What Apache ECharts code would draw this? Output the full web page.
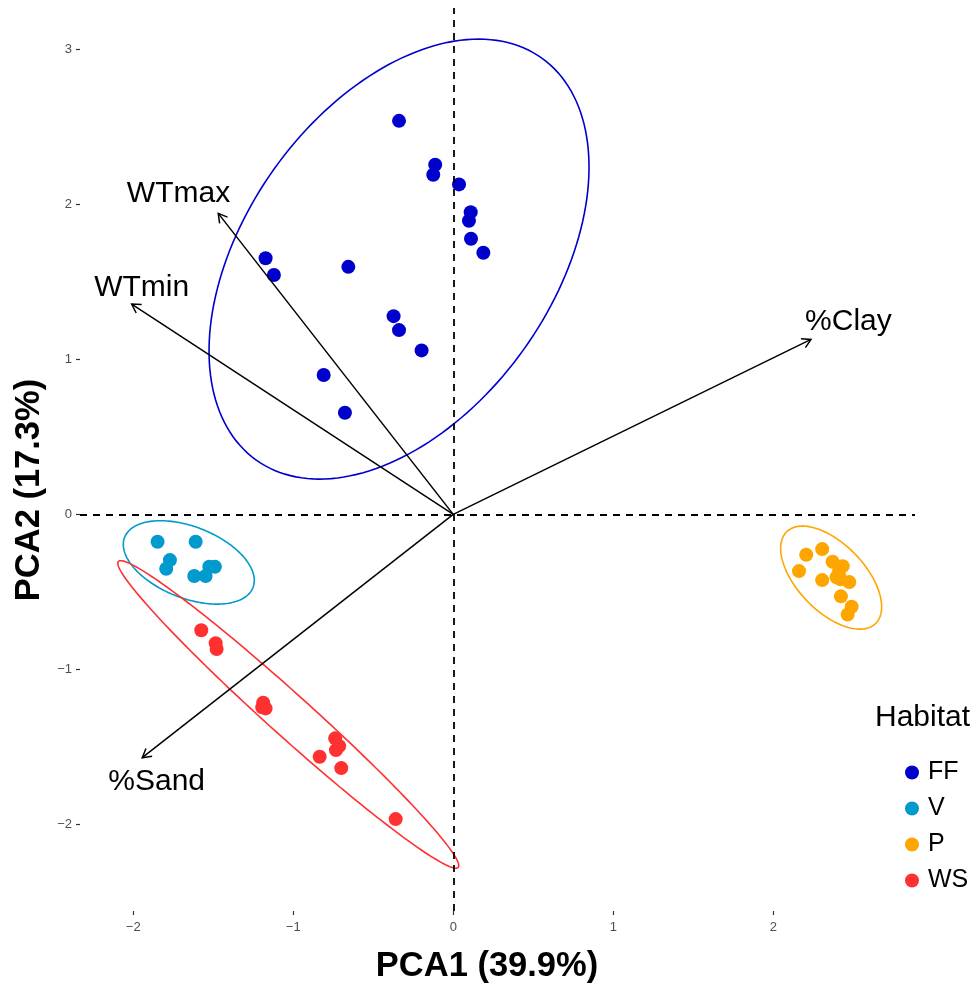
<!DOCTYPE html>
<html>
<head>
<meta charset="utf-8">
<script src="https://cdn.jsdelivr.net/npm/echarts@6/dist/echarts.min.js"></script>
<style>html,body{margin:0;padding:0;background:#fff}#c{width:980px;height:988px}</style>
</head>
<body>
<div id="c"></div>
<script>
const habitats = ['FF', 'V', 'P', 'WS'];
const habitatColors = ['#0000CD', '#009ACD', '#FFA500', '#FF3030'];
const ffData = [[-0.339,2.539],[-0.113,2.256],[-0.125,2.191],[0.036,2.129],[0.109,1.950],[0.098,1.894],[0.111,1.778],[0.188,1.688],[-1.173,1.652],[-1.121,1.544],[-0.656,1.597],[-0.373,1.279],[-0.339,1.189],[-0.198,1.058],[-0.810,0.899],[-0.677,0.656]];
const vData = [[-1.848,-0.177],[-1.610,-0.177],[-1.771,-0.295],[-1.794,-0.351],[-1.619,-0.398],[-1.548,-0.398],[-1.525,-0.338],[-1.490,-0.338]];
const pData = [[2.206,-0.261],[2.306,-0.224],[2.161,-0.366],[2.371,-0.306],[2.434,-0.334],[2.411,-0.370],[2.396,-0.406],[2.421,-0.419],[2.475,-0.437],[2.306,-0.424],[2.423,-0.529],[2.490,-0.596],[2.465,-0.646]];
const wsData = [[-1.575,-0.748],[-1.485,-0.832],[-1.479,-0.869],[-1.188,-1.215],[-1.173,-1.252],[-1.194,-1.245],[-0.738,-1.445],[-0.713,-1.495],[-0.733,-1.521],[-0.835,-1.564],[-0.700,-1.637],[-0.360,-1.966]];
// ellipse: [centerX, centerY, semiAxisU_x, semiAxisU_y, semiAxisV_x, semiAxisV_y]
const ffEllipse = [-0.339, 1.647, 0.8668, 1.3145, -0.8117, 0.5353];
const vEllipse = [-1.653, -0.310, 0.3998, -0.1656, 0.0879, 0.2121];
const pEllipse = [2.362, -0.408, 0.2737, -0.2998, 0.1572, 0.1435];
const wsEllipse = [-1.031, -1.291, 1.062, -0.987, -0.0878, -0.1007];
const arrowNames = ['WTmax', 'WTmin', '%Clay', '%Sand'];
const arrowTips = [[-1.469,1.942],[-2.010,1.357],[2.236,1.129],[-1.944,-1.570]];
const arrowLabelPos = [[-1.7175,2.066],[-1.9475,1.46],[2.47,1.241],[-1.854,-1.727]];
const xTicks = [-2, -1, 0, 1, 2];
const yTicks = [-2, -1, 0, 1, 2, 3];

const FONT = "'Liberation Sans', Arial, Helvetica, sans-serif";
const chart = echarts.init(document.getElementById('c'), null, {renderer: 'canvas'});
const fmt = v => String(v).replace('-', '\u2212');

function ellipseSeries(name, params, color) {
  return {
    type: 'custom', name: name, coordinateSystem: 'cartesian2d', silent: true, z: 3,
    dimensions: ['cx','cy','ux','uy','vx','vy'],
    encode: {x: 0, y: 1},
    data: [params],
    renderItem: function (p, api) {
      const cx = api.value(0), cy = api.value(1), ux = api.value(2), uy = api.value(3), vx = api.value(4), vy = api.value(5);
      const pts = [];
      const n = 180;
      for (let i = 0; i < n; i++) {
        const t = 2 * Math.PI * i / n;
        pts.push(api.coord([cx + ux * Math.cos(t) + vx * Math.sin(t), cy + uy * Math.cos(t) + vy * Math.sin(t)]));
      }
      return {type: 'polygon', shape: {points: pts}, style: {fill: null, stroke: color, lineWidth: 1.6}};
    }
  };
}

function scatterSeries(name, data, color) {
  return {type: 'scatter', name: name, data: data, symbol: 'circle', symbolSize: 14, z: 4,
    itemStyle: {color: color, opacity: 1}, emphasis: {disabled: true}};
}

const arrowData = arrowTips.map((t, i) => [t[0], t[1], arrowLabelPos[i][0], arrowLabelPos[i][1], arrowNames[i]]);

const option = {
  animation: false,
  backgroundColor: '#ffffff',
  grid: {left: 80, right: 65, top: 8, bottom: 77, containLabel: false},
  xAxis: {
    type: 'value', min: -2.333, max: 2.886,
    axisLine: {show: false, onZero: false}, splitLine: {show: false},
    axisTick: {show: true, customValues: xTicks, length: 4, lineStyle: {color: '#333333', width: 1.2}},
    axisLabel: {customValues: xTicks, formatter: fmt, color: '#4D4D4D', fontSize: 13, fontFamily: FONT, margin: 10}
  },
  yAxis: {
    type: 'value', min: -2.559, max: 3.267,
    axisLine: {show: false, onZero: false}, splitLine: {show: false},
    axisTick: {show: true, customValues: yTicks, length: 4, lineStyle: {color: '#333333', width: 1.2}},
    axisLabel: {customValues: yTicks, formatter: fmt, color: '#4D4D4D', fontSize: 13, fontFamily: FONT, margin: 8}
  },
  legend: {
    data: habitats.map(h => ({name: h, icon: 'circle'})),
    orient: 'vertical', left: 900, top: 755,
    itemWidth: 14, itemHeight: 14, itemGap: 11,
    textStyle: {fontSize: 25, fontFamily: FONT, color: '#000', lineHeight: 25, padding: [0, 0, 0, 4]},
    selectedMode: false
  },
  graphic: [
    {type: 'text', left: 875, top: 703, style: {text: 'Habitat', font: '30px ' + FONT, fill: '#000'}},
    {type: 'text', x: 487, y: 966, style: {text: 'PCA1 (39.9%)', font: 'bold 34.5px ' + FONT, fill: '#000', textAlign: 'center', textVerticalAlign: 'middle'}},
    {type: 'text', x: 29, y: 490, rotation: Math.PI / 2, style: {text: 'PCA2 (17.3%)', font: 'bold 34.5px ' + FONT, fill: '#000', textAlign: 'center', textVerticalAlign: 'middle'}}
  ],
  series: [
    {
      type: 'line', name: 'refLines', data: [], silent: true, z: 1,
      markLine: {
        silent: true, symbol: ['none', 'none'], animation: false, label: {show: false},
        lineStyle: {color: '#000', type: [7, 6], width: 1.8},
        data: [{xAxis: 0}, {yAxis: 0}]
      }
    },
    ellipseSeries('FF ellipse', ffEllipse, habitatColors[0]),
    ellipseSeries('V ellipse', vEllipse, habitatColors[1]),
    ellipseSeries('P ellipse', pEllipse, habitatColors[2]),
    ellipseSeries('WS ellipse', wsEllipse, habitatColors[3]),
    scatterSeries('FF', ffData, habitatColors[0]),
    scatterSeries('V', vData, habitatColors[1]),
    scatterSeries('P', pData, habitatColors[2]),
    scatterSeries('WS', wsData, habitatColors[3]),
    {
      type: 'custom', name: 'loadings', coordinateSystem: 'cartesian2d', silent: true, z: 5,
      dimensions: ['x', 'y', 'lx', 'ly', 'label'],
      encode: {x: 0, y: 1},
      data: arrowData,
      renderItem: function (p, api) {
        const o = api.coord([0, 0]);
        const t = api.coord([api.value(0), api.value(1)]);
        const lp = api.coord([api.value(2), api.value(3)]);
        const ang = Math.atan2(t[1] - o[1], t[0] - o[0]);
        const L = 10, a = Math.PI / 6;
        const h1 = [t[0] - L * Math.cos(ang - a), t[1] - L * Math.sin(ang - a)];
        const h2 = [t[0] - L * Math.cos(ang + a), t[1] - L * Math.sin(ang + a)];
        return {
          type: 'group',
          children: [
            {type: 'polyline', shape: {points: [o, t]}, style: {stroke: '#000', lineWidth: 1.5, fill: null}},
            {type: 'polyline', shape: {points: [h1, t, h2]}, style: {stroke: '#000', lineWidth: 1.5, fill: null}},
            {type: 'text', x: lp[0], y: lp[1], style: {text: arrowNames[p.dataIndex], font: '30px ' + FONT, fill: '#000', textAlign: 'center', textVerticalAlign: 'middle'}}
          ]
        };
      }
    }
  ]
};
chart.setOption(option);
</script>
</body>
</html>
